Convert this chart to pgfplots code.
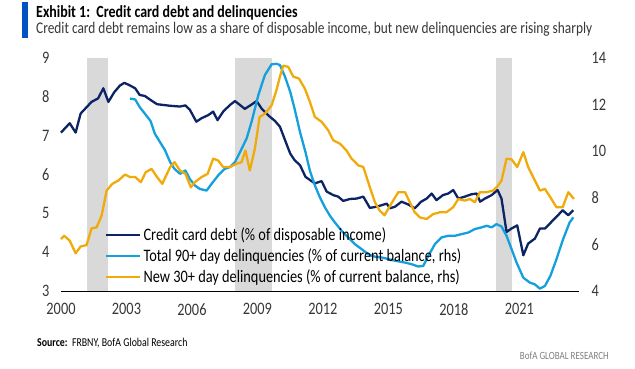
\documentclass[border=0pt]{standalone}
\usepackage{fontspec}
\setmainfont{Carlito}[FakeStretch=0.82]
\usepackage{pgfplots}
\pgfplotsset{compat=1.18}
\definecolor{navy}{RGB}{12,35,100}
\definecolor{lblue}{RGB}{20,160,220}
\definecolor{gold}{RGB}{240,170,10}
\definecolor{recgray}{RGB}{217,217,217}
\definecolor{barblue}{RGB}{0,83,194}
\definecolor{txtgray}{RGB}{55,55,55}
\newcommand\tickfont{\fontsize{17.5}{20}\selectfont}
\newcommand\legfont{\fontsize{17.5}{20}\selectfont}
\begin{document}
\begin{tikzpicture}
\path[use as bounding box] (0pt,0pt) rectangle (635pt,369pt);
\fill[barblue] (22pt,331pt) rectangle (28pt,367pt);
\node[anchor=base west, inner sep=0pt] at (36pt,351pt) {\fontsize{17}{19}\selectfont\bfseries Exhibit 1:\ \ Credit card debt and delinquencies};
\node[anchor=base west, inner sep=0pt, text=txtgray] at (36pt,335pt) {\fontsize{16.3}{18}\selectfont Credit card debt remains low as a share of disposable income, but new delinquencies are rising sharply};
\node[anchor=base west, inner sep=0pt] at (37pt,22pt) {\fontsize{12}{14}\selectfont\textbf{Source:}\ \ FRBNY, BofA Global Research};
\node[anchor=base east, inner sep=0pt, text=gray] at (609pt,9pt) {\fontsize{11}{13}\selectfont BofA GLOBAL RESEARCH};
\begin{axis}[
  at={(61pt,78pt)}, anchor=south west,
  width=518pt, height=233pt, scale only axis,
  xmin=2000, xmax=2023.73, ymin=3, ymax=9,
  axis x line*=bottom, axis y line*=left,
  x axis line style={line width=0.8pt, black, -},
  y axis line style={draw=none},
  major tick length=0pt,
  xtick={2000,2003,...,2021}, ytick={3,4,...,9},
  scaled ticks=false,
  /pgf/number format/.cd, 1000 sep={}, assume math mode=true,
  /pgfplots/.cd,
  xticklabel style={font=\tickfont, text=txtgray, yshift=-9pt},
  yticklabel style={font=\tickfont, text=txtgray, xshift=-8pt},
  clip=false,
]
\addplot[draw=none, fill=recgray] coordinates {(2001.2,3) (2001.2,9) (2002.15,9) (2002.15,3)} -- cycle;
\addplot[draw=none, fill=recgray] coordinates {(2007.97,3) (2007.97,9) (2009.67,9) (2009.67,3)} -- cycle;
\addplot[draw=none, fill=recgray] coordinates {(2019.93,3) (2019.93,9) (2020.66,9) (2020.66,3)} -- cycle;
\addplot[navy, line width=2.3pt, line join=round] coordinates {
(2000.0,7.08) (2000.15,7.17) (2000.4,7.32) (2000.67,7.08) (2000.9,7.57) (2001.2,7.75) (2001.4,7.87) (2001.7,7.96) (2001.94,8.22) (2002.17,7.87) (2002.44,8.12) (2002.7,8.29) (2002.9,8.36) (2003.1,8.31) (2003.4,8.22) (2003.6,8.05) (2003.85,8.02) (2004.1,7.92) (2004.4,7.81) (2004.7,7.79) (2005.0,7.77) (2005.45,7.75) (2005.7,7.78) (2005.9,7.67) (2006.2,7.36) (2006.44,7.45) (2006.75,7.53) (2006.97,7.62) (2007.17,7.40) (2007.43,7.62) (2007.74,7.79) (2007.97,7.89) (2008.2,7.79) (2008.42,7.69) (2008.7,7.79) (2008.96,7.89) (2009.19,7.70) (2009.5,7.52) (2009.8,7.38) (2010.03,7.23) (2010.26,6.89) (2010.5,6.54) (2010.7,6.37) (2010.95,6.24) (2011.2,5.94) (2011.4,5.86) (2011.63,5.77) (2011.94,5.83) (2012.17,5.56) (2012.47,5.47) (2012.7,5.43) (2012.93,5.32) (2013.24,5.37) (2013.54,5.38) (2013.85,5.43) (2014.15,5.14) (2014.46,5.17) (2014.69,5.21) (2014.92,5.25) (2015.07,5.13) (2015.3,5.17) (2015.6,5.30) (2015.9,5.23) (2016.2,5.13) (2016.5,5.30) (2016.75,5.38) (2016.98,5.51) (2017.2,5.34) (2017.5,5.47) (2017.74,5.51) (2017.97,5.60) (2018.2,5.38) (2018.5,5.43) (2018.8,5.49) (2019.04,5.51) (2019.2,5.30) (2019.42,5.38) (2019.73,5.47) (2020.0,5.60) (2020.18,5.38) (2020.41,4.52) (2020.64,4.61) (2020.9,4.69) (2021.18,3.92) (2021.4,4.22) (2021.71,4.35) (2021.94,4.61) (2022.17,4.61) (2022.47,4.78) (2022.7,4.91) (2022.98,5.08) (2023.24,4.95) (2023.47,5.08)
};
\end{axis}
\begin{axis}[
  at={(61pt,78pt)}, anchor=south west,
  width=518pt, height=233pt, scale only axis,
  xmin=2000, xmax=2023.73, ymin=4, ymax=14,
  axis x line=none, axis y line*=right,
  y axis line style={draw=none},
  major tick length=0pt,
  ytick={4,6,...,14},
  /pgf/number format/.cd, assume math mode=true,
  /pgfplots/.cd,
  yticklabel style={font=\tickfont, text=txtgray, xshift=9pt},
  clip=false,
  legend style={draw=none, fill=none, at={(0.085,0.28)}, anchor=north west, font=\legfont, row sep=2.5pt, inner sep=0pt},
  legend cell align=left,
  legend image code/.code={\draw[#1] (0pt,0pt) -- (34pt,0pt);},
]
\addlegendimage{navy, line width=2.3pt}
\addlegendentry{Credit card debt (\% of disposable income)}
\addplot[lblue, line width=2.3pt, line join=round] coordinates {
(2003.16,12.26) (2003.4,12.22) (2003.6,11.9) (2003.85,11.6) (2004.1,11.3) (2004.3,10.75) (2004.53,10.4) (2004.76,10.05) (2005.0,9.53) (2005.2,9.24) (2005.45,9.03) (2005.7,9.17) (2005.9,8.81) (2006.13,8.53) (2006.36,8.38) (2006.67,8.31) (2006.9,8.6) (2007.2,8.96) (2007.5,9.24) (2007.74,9.32) (2007.97,9.53) (2008.2,9.96) (2008.5,10.54) (2008.73,11.26) (2009.04,12.41) (2009.34,13.27) (2009.65,13.73) (2009.87,13.75) (2010.03,13.7) (2010.26,13.2) (2010.5,12.55) (2010.7,11.83) (2010.95,10.82) (2011.2,9.96) (2011.4,9.17) (2011.63,8.53) (2011.86,8.02) (2012.09,7.59) (2012.32,7.23) (2012.55,6.94) (2012.85,6.59) (2013.16,6.3) (2013.46,6.01) (2013.77,5.8) (2014.07,5.58) (2014.38,5.47) (2014.69,5.44) (2015.0,5.37) (2015.3,5.3) (2015.76,5.22) (2016.06,5.15) (2016.37,5.05) (2016.6,5.08) (2016.82,5.5) (2017.13,6.01) (2017.43,6.3) (2017.74,6.37) (2018.05,6.37) (2018.35,6.44) (2018.66,6.51) (2018.96,6.66) (2019.27,6.73) (2019.5,6.8) (2019.73,6.73) (2019.95,6.87) (2020.18,6.77) (2020.41,6.37) (2020.64,5.8) (2020.87,5.22) (2021.18,4.57) (2021.48,4.36) (2021.7,4.29) (2021.94,4.1) (2022.17,4.22) (2022.42,4.65) (2022.7,5.37) (2023.0,6.22) (2023.3,6.94) (2023.47,7.16)
};
\addlegendentry{Total 90+ day delinquencies (\% of current balance, rhs)}
\addplot[gold, line width=2.3pt, line join=round] coordinates {
(2000.0,6.23) (2000.15,6.37) (2000.4,6.16) (2000.67,5.62) (2000.9,5.91) (2001.17,5.97) (2001.4,6.69) (2001.63,6.73) (2001.86,7.23) (2002.09,8.31) (2002.35,8.6) (2002.63,8.74) (2002.93,9.0) (2003.16,8.89) (2003.4,8.89) (2003.66,8.67) (2003.88,9.1) (2004.15,9.24) (2004.4,8.89) (2004.64,8.6) (2005.0,9.32) (2005.2,9.53) (2005.45,9.17) (2005.7,9.03) (2005.95,8.45) (2006.13,8.67) (2006.44,8.89) (2006.72,9.03) (2006.97,9.68) (2007.2,9.6) (2007.43,9.32) (2007.74,9.32) (2008.04,9.46) (2008.27,9.53) (2008.45,10.03) (2008.65,9.17) (2008.88,10.1) (2009.1,11.47) (2009.34,11.61) (2009.65,11.97) (2009.87,12.62) (2010.03,13.2) (2010.18,13.67) (2010.41,13.62) (2010.64,13.2) (2010.9,13.12) (2011.17,12.69) (2011.4,12.12) (2011.63,11.47) (2011.94,11.26) (2012.24,10.9) (2012.47,10.47) (2012.78,10.32) (2013.08,10.03) (2013.31,9.68) (2013.62,9.39) (2013.85,9.32) (2014.15,8.45) (2014.38,7.81) (2014.6,7.45) (2014.82,7.25) (2015.1,7.7) (2015.45,8.24) (2015.76,8.24) (2015.98,7.81) (2016.2,7.38) (2016.44,7.16) (2016.75,7.09) (2017.05,7.3) (2017.36,7.38) (2017.66,7.38) (2017.97,7.6) (2018.2,7.95) (2018.5,7.88) (2018.73,7.95) (2018.96,7.81) (2019.19,8.24) (2019.5,8.24) (2019.8,8.31) (2020.0,8.5) (2020.18,8.74) (2020.41,9.68) (2020.64,9.65) (2020.9,9.32) (2021.18,9.96) (2021.4,9.32) (2021.71,8.74) (2021.94,8.31) (2022.17,8.38) (2022.42,8.02) (2022.7,7.59) (2022.98,7.59) (2023.24,8.24) (2023.5,7.95)
};
\addlegendentry{New 30+ day delinquencies (\% of current balance, rhs)}
\end{axis}
\end{tikzpicture}
\end{document}
